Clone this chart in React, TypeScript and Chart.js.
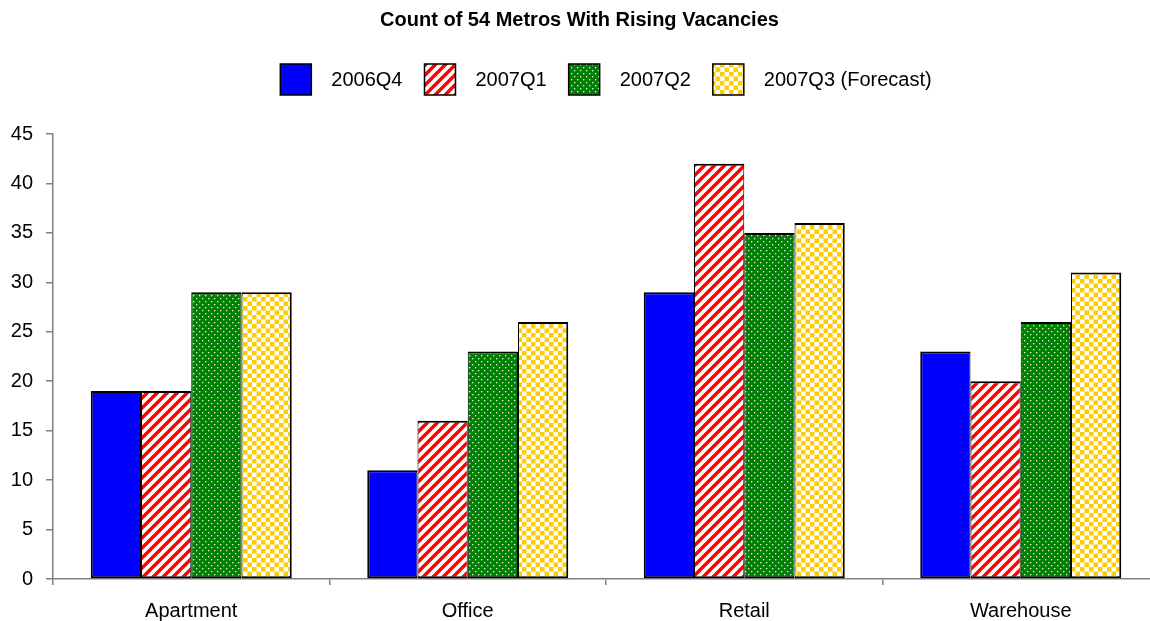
import React, { useEffect, useRef } from 'react';
import { Chart, registerables } from 'chart.js';

Chart.register(...registerables);

const chartTitle = 'Count of 54 Metros With Rising Vacancies';
const categories = ['Apartment', 'Office', 'Retail', 'Warehouse'];
const seriesLabels = ['2006Q4', '2007Q1', '2007Q2', '2007Q3 (Forecast)'];
const values2006Q4 = [19, 11, 29, 23];
const values2007Q1 = [19, 16, 42, 20];
const values2007Q2 = [29, 23, 35, 26];
const values2007Q3 = [29, 26, 36, 31];
const yMin = 0;
const yMax = 45;
const yStep = 5;

const FONT = '"Liberation Sans", Arial, sans-serif';

function makePattern(kind: string): CanvasPattern | string {
  const c = document.createElement('canvas');
  const ctx = c.getContext('2d')!;
  if (kind === 'solid') return '#0000FF';
  if (kind === 'stripes') {
    c.width = 10; c.height = 10;
    ctx.fillStyle = '#FFFFFF';
    ctx.fillRect(0, 0, 10, 10);
    ctx.strokeStyle = '#FF0000';
    ctx.lineWidth = 3.4;
    ctx.beginPath();
    ctx.moveTo(-5, 5); ctx.lineTo(5, -5);
    ctx.moveTo(0, 10); ctx.lineTo(10, 0);
    ctx.moveTo(5, 15); ctx.lineTo(15, 5);
    ctx.stroke();
  } else if (kind === 'dots') {
    c.width = 6; c.height = 6;
    ctx.fillStyle = '#008000';
    ctx.fillRect(0, 0, 6, 6);
    ctx.fillStyle = 'rgba(255,255,255,0.9)';
    ctx.fillRect(1, 1, 1.3, 1.3);
    ctx.fillRect(4, 4, 1.3, 1.3);
  } else {
    c.width = 9; c.height = 9;
    ctx.fillStyle = '#FFFFFF';
    ctx.fillRect(0, 0, 9, 9);
    ctx.fillStyle = '#FFCC00';
    ctx.fillRect(0, 0, 4.5, 4.5);
    ctx.fillRect(4.5, 4.5, 4.5, 4.5);
  }
  return ctx.createPattern(c, 'repeat')!;
}

const legendPlugin = {
  id: 'customLegend',
  afterDraw(chart: any) {
    const ctx: CanvasRenderingContext2D = chart.ctx;
    const area = chart.chartArea;
    const boxW = 31;
    const boxH = 31;
    const gapBoxText = 20;
    const gapItems = 22;
    const boxTop = 64;
    ctx.save();
    ctx.font = `20px ${FONT}`;
    const items = chart.data.datasets.map((ds: any) => ({
      label: ds.label as string,
      fill: ds.backgroundColor,
      w: ctx.measureText(ds.label).width,
    }));
    let total = 0;
    items.forEach((it: any, i: number) => {
      total += boxW + gapBoxText + it.w + (i < items.length - 1 ? gapItems : 0);
    });
    let x = (area.left + area.right) / 2 - total / 2;
    items.forEach((it: any) => {
      ctx.fillStyle = it.fill;
      ctx.fillRect(x, boxTop, boxW, boxH);
      ctx.strokeStyle = '#000000';
      ctx.lineWidth = 1.5;
      ctx.strokeRect(x, boxTop, boxW, boxH);
      ctx.fillStyle = '#000000';
      ctx.textBaseline = 'middle';
      ctx.textAlign = 'left';
      ctx.fillText(it.label, x + boxW + gapBoxText, boxTop + boxH / 2 + 1);
      x += boxW + gapBoxText + it.w + gapItems;
    });
    ctx.restore();
  },
};

export default function App() {
  const canvasRef = useRef<HTMLCanvasElement | null>(null);

  useEffect(() => {
    const canvas = canvasRef.current;
    if (!canvas) return;
    const fills = [makePattern('solid'), makePattern('stripes'), makePattern('dots'), makePattern('checker')];
    const seriesValues = [values2006Q4, values2007Q1, values2007Q2, values2007Q3];
    const last = seriesValues.length - 1;
    const chart = new Chart(canvas, {
      type: 'bar',
      data: {
        labels: categories,
        datasets: seriesValues.map((vals, i) => ({
          label: seriesLabels[i],
          data: vals,
          backgroundColor: fills[i] as any,
          borderColor: '#000000',
          borderWidth: { top: 2, bottom: 2, left: i === 0 ? 2 : 1, right: i === last ? 2 : 1 },
          borderSkipped: false,
          categoryPercentage: 0.727,
          barPercentage: 1.0,
        })),
      },
      options: {
        responsive: false,
        animation: false,
        devicePixelRatio: 1,
        layout: { padding: { left: 0, right: 0, top: 0, bottom: 0 } },
        plugins: {
          legend: { display: false },
          tooltip: { enabled: false },
          title: {
            display: true,
            text: chartTitle,
            color: '#000000',
            font: { family: FONT, size: 20, weight: 'bold' },
            padding: { top: 8, bottom: 102 },
          },
        },
        scales: {
          x: {
            grid: {
              offset: true,
              drawOnChartArea: false,
              drawTicks: true,
              tickLength: 6,
              color: '#808080',
              lineWidth: 1.5,
            },
            border: { display: true, color: '#808080', width: 1.5 },
            ticks: {
              color: '#000000',
              font: { family: FONT, size: 20 },
              padding: 14,
              maxRotation: 0,
            },
            afterFit: (scale: any) => {
              scale.height = 42;
            },
          },
          y: {
            min: yMin,
            max: yMax,
            ticks: {
              stepSize: yStep,
              color: '#000000',
              font: { family: FONT, size: 20 },
              padding: 13,
            },
            grid: {
              drawOnChartArea: false,
              drawTicks: true,
              tickLength: 7,
              color: '#808080',
              lineWidth: 1.5,
            },
            border: { display: true, color: '#808080', width: 1.5 },
            afterFit: (scale: any) => {
              scale.width = 53;
            },
          },
        },
      },
      plugins: [legendPlugin],
    });
    return () => chart.destroy();
  }, []);

  return (
    <div style={{ position: 'absolute', left: 0, top: 0, width: 1150, height: 621, overflow: 'hidden', background: '#FFFFFF' }}>
      <canvas ref={canvasRef} width={1159} height={621} style={{ display: 'block', width: 1159, height: 621 }} />
    </div>
  );
}
